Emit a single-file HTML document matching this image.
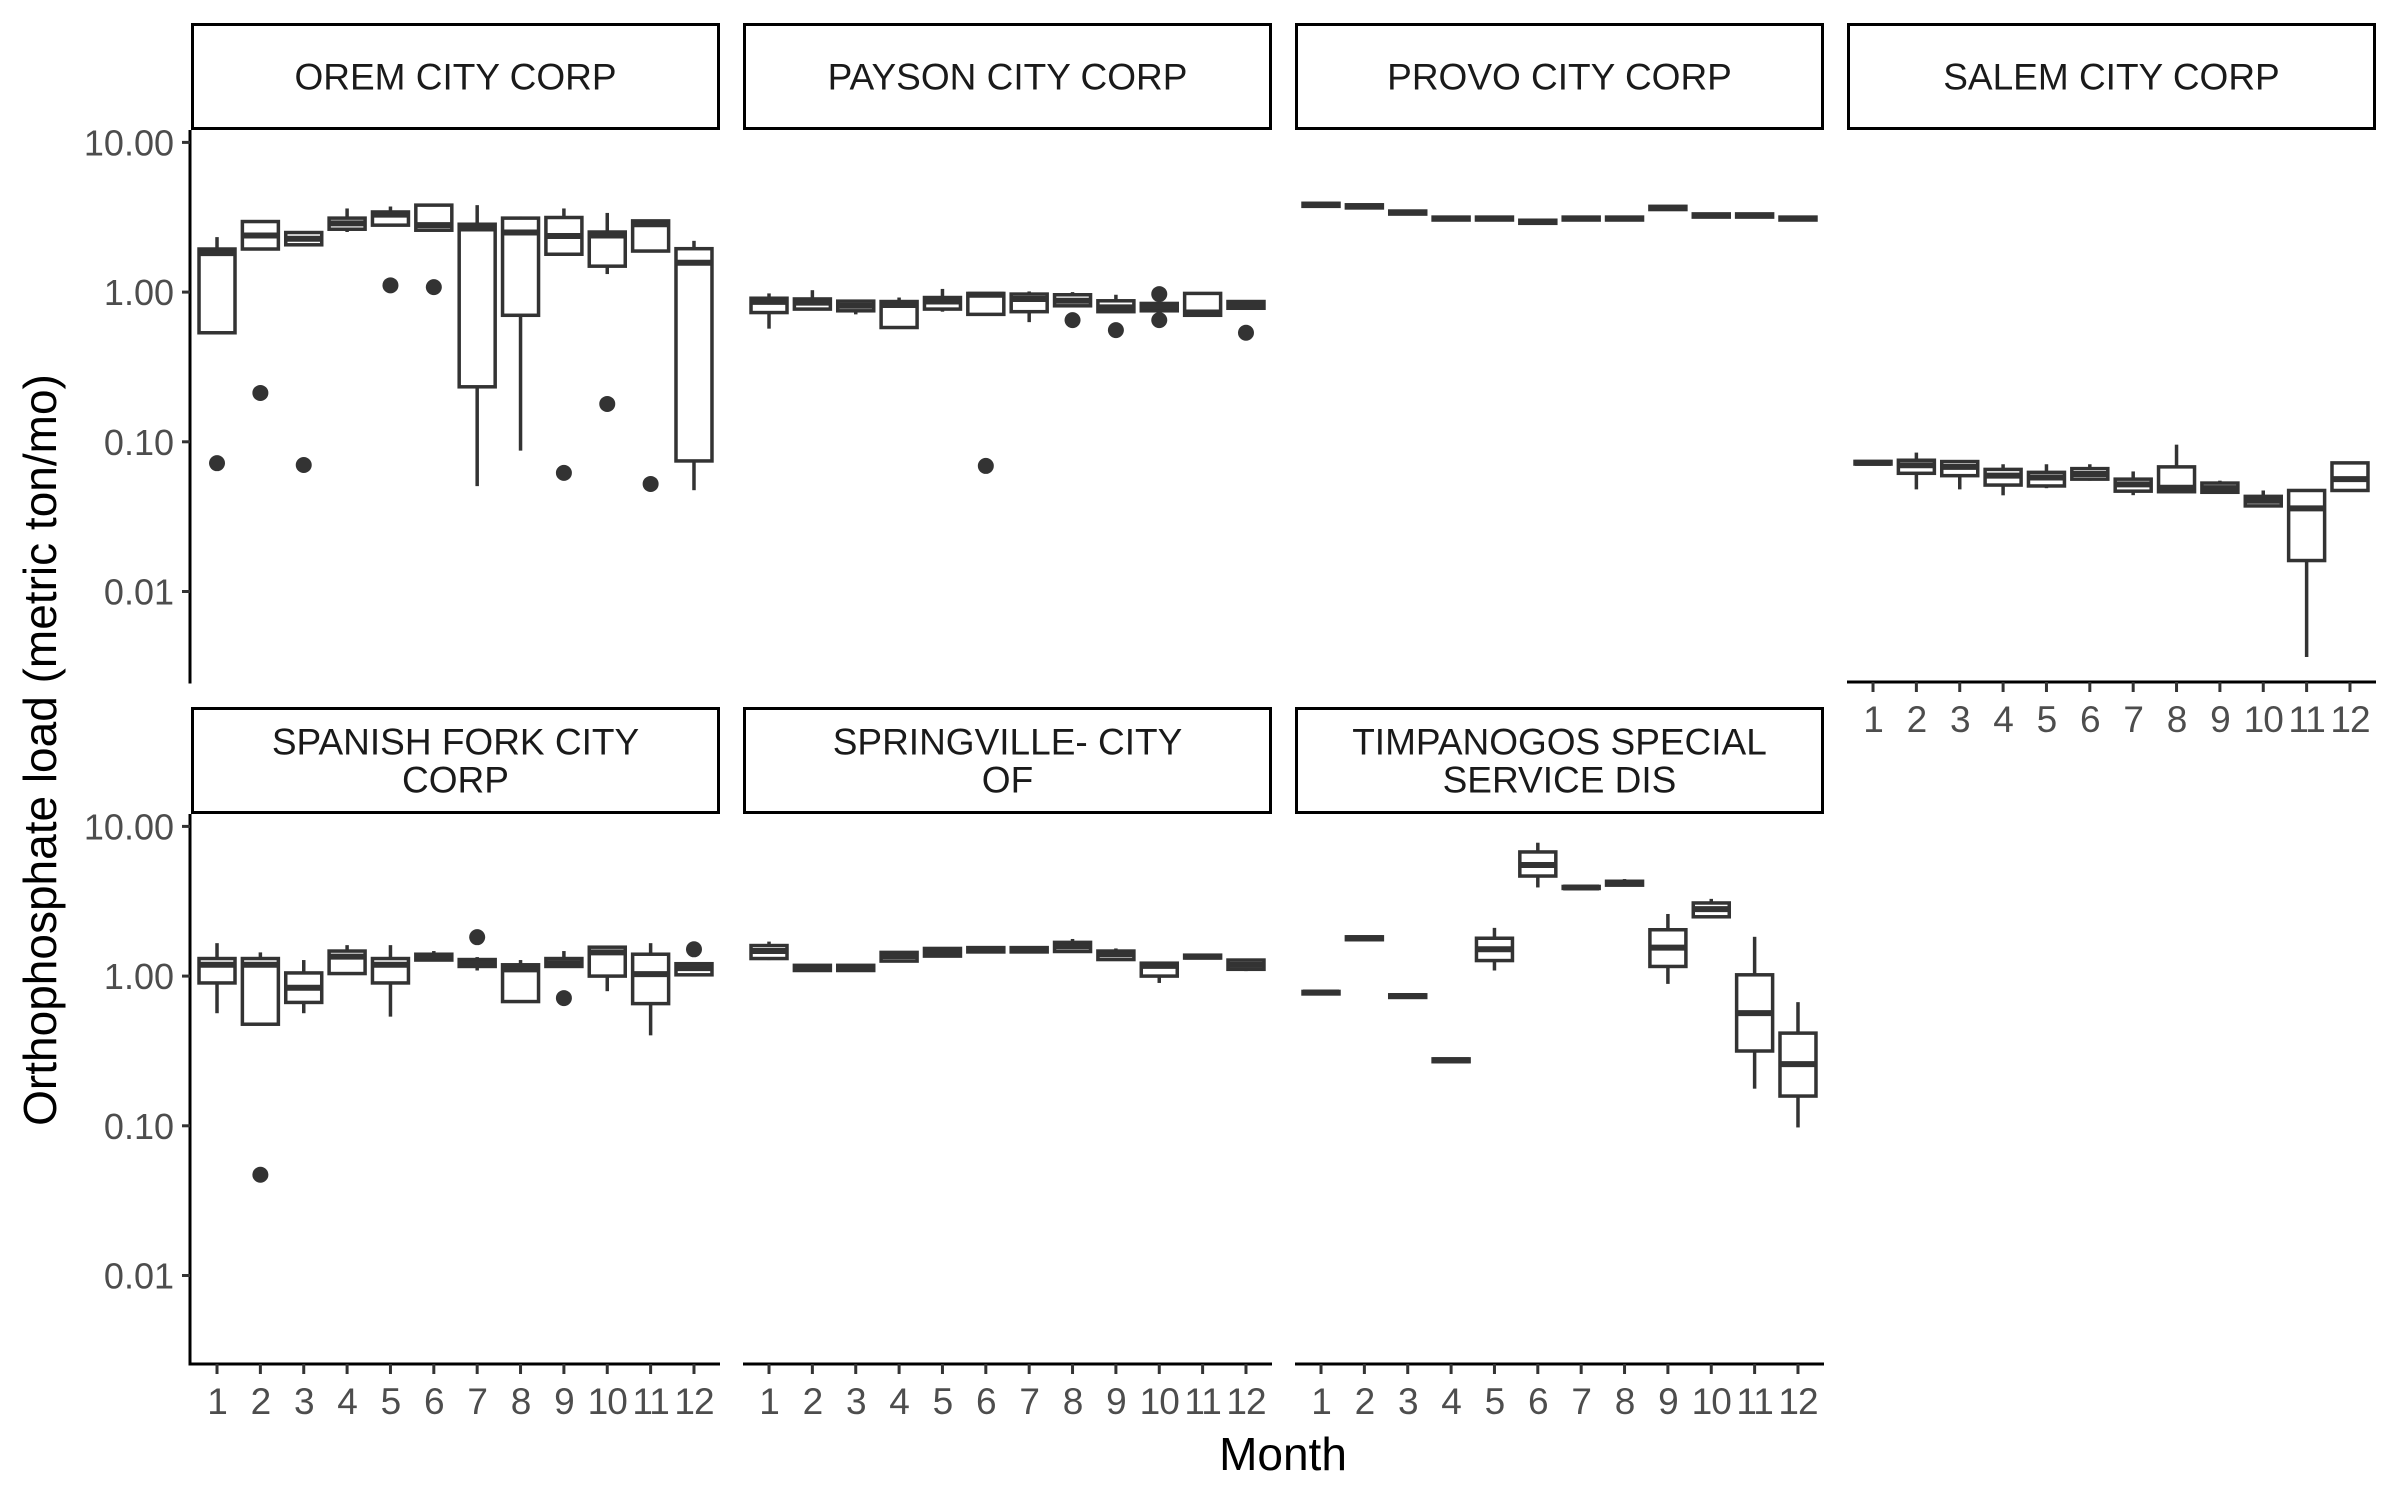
<!DOCTYPE html>
<html><head><meta charset="utf-8">
<style>
html,body{margin:0;padding:0;background:#fff;}
svg{display:block;font-family:"Liberation Sans",Arial,sans-serif;}
</style></head>
<body>
<svg id="chart" width="2400" height="1500" viewBox="0 0 2400 1500" xmlns="http://www.w3.org/2000/svg">
<rect x="0" y="0" width="2400" height="1500" fill="#fff"/>
<text x="1283" y="1470" font-size="46" text-anchor="middle" fill="#000">Month</text>
<text transform="translate(56,750) rotate(-90)" font-size="46" text-anchor="middle" fill="#000">Orthophosphate load (metric ton/mo)</text>
</svg>
<script>
const months = [1,2,3,4,5,6,7,8,9,10,11,12];
const yTicks = [10, 1, 0.1, 0.01];
const yTickLabels = ["10.00","1.00","0.10","0.01"];
const panelNames = ["OREM CITY CORP","PAYSON CITY CORP","PROVO CITY CORP","SALEM CITY CORP","SPANISH FORK CITY|CORP","SPRINGVILLE- CITY|OF","TIMPANOGOS SPECIAL|SERVICE DIS"];

const oremLo  = [0.535,1.94,2.07,2.52,2.80,2.59,0.0506,0.0873,1.79,1.32,1.88,0.0475];
const oremQ1  = [0.535,1.94,2.07,2.63,2.80,2.59,0.233,0.70,1.79,1.49,1.88,0.0745];
const oremMed = [1.82,2.39,2.27,2.88,3.29,2.80,2.66,2.50,2.37,2.39,2.84,1.57];
const oremQ3  = [1.94,2.96,2.50,3.12,3.43,3.81,2.84,3.12,3.15,2.52,2.99,1.95];
const oremHi  = [2.33,2.96,2.50,3.62,3.73,3.81,3.81,3.20,3.62,3.38,2.99,2.20];
const oremOut = [[1,0.072],[2,0.212],[3,0.070],[5,1.11],[6,1.08],[9,0.062],[10,0.179],[11,0.0523]];

const paysonLo  = [0.57,0.77,0.71,0.57,0.74,0.71,0.63,0.81,0.74,0.75,0.69,0.78];
const paysonQ1  = [0.73,0.77,0.75,0.58,0.77,0.71,0.74,0.81,0.74,0.75,0.70,0.78];
const paysonMed = [0.86,0.85,0.81,0.82,0.865,0.96,0.90,0.875,0.79,0.80,0.73,0.82];
const paysonQ3  = [0.91,0.90,0.87,0.865,0.92,0.98,0.97,0.96,0.875,0.84,0.98,0.865];
const paysonHi  = [0.98,1.03,0.89,0.92,1.05,0.98,1.01,1.0,0.96,0.84,0.98,0.865];
const paysonOut = [[6,0.069],[8,0.65],[9,0.557],[10,0.97],[10,0.65],[12,0.535]];

const provoLo  = [3.74,3.65,3.32,3.03,3.03,2.88,3.03,3.03,3.56,3.17,3.17,3.03];
const provoQ1  = [3.74,3.65,3.32,3.03,3.03,2.88,3.03,3.03,3.56,3.17,3.17,3.03];
const provoMed = [3.83,3.74,3.40,3.10,3.10,2.95,3.10,3.10,3.65,3.25,3.25,3.10];
const provoQ3  = [3.92,3.83,3.48,3.17,3.17,3.02,3.17,3.17,3.74,3.33,3.33,3.17];
const provoHi  = [3.92,3.83,3.48,3.17,3.17,3.02,3.17,3.17,3.74,3.33,3.33,3.17];
const provoOut = [];

const salemLo  = [0.0710,0.0481,0.0481,0.0439,0.0490,0.0550,0.0440,0.0464,0.0450,0.0373,0.00365,0.0473];
const salemQ1  = [0.0710,0.0616,0.0594,0.0514,0.0507,0.0563,0.0468,0.0464,0.0460,0.0373,0.0161,0.0473];
const salemMed = [0.0723,0.0697,0.0680,0.0594,0.0578,0.0609,0.0520,0.0493,0.0490,0.0404,0.0359,0.0563];
const salemQ3  = [0.0740,0.0753,0.0738,0.0654,0.0625,0.0662,0.0563,0.068,0.053,0.0432,0.0473,0.0723];
const salemHi  = [0.0740,0.0847,0.0738,0.0708,0.0708,0.0708,0.0634,0.0957,0.0550,0.0473,0.0473,0.0723];
const salemOut = [];

const spanishLo  = [0.565,0.477,0.565,1.04,0.536,1.28,1.09,0.676,1.16,0.793,0.402,1.02];
const spanishQ1  = [0.90,0.477,0.667,1.04,0.90,1.28,1.16,0.676,1.16,1.00,0.655,1.02];
const spanishMed = [1.19,1.19,0.836,1.35,1.19,1.35,1.22,1.11,1.22,1.44,1.03,1.13];
const spanishQ3  = [1.31,1.31,1.05,1.47,1.31,1.40,1.29,1.19,1.31,1.56,1.40,1.21];
const spanishHi  = [1.66,1.44,1.28,1.61,1.61,1.47,1.34,1.28,1.47,1.56,1.66,1.21];
const spanishOut = [[2,0.0471],[7,1.82],[9,0.713],[12,1.51]];

const springLo  = [1.28,1.09,1.09,1.25,1.36,1.45,1.45,1.46,1.28,0.90,1.32,1.08];
const springQ1  = [1.31,1.09,1.09,1.26,1.36,1.45,1.45,1.46,1.29,1.00,1.32,1.11];
const springMed = [1.47,1.13,1.13,1.36,1.46,1.50,1.50,1.58,1.40,1.17,1.35,1.19];
const springQ3  = [1.60,1.18,1.18,1.44,1.53,1.55,1.55,1.68,1.47,1.22,1.38,1.28];
const springHi  = [1.70,1.18,1.18,1.47,1.55,1.57,1.58,1.77,1.53,1.22,1.38,1.28];
const springOut = [];

const timpLo  = [0.76,1.75,0.72,0.268,1.09,3.91,3.85,4.05,0.887,2.45,0.177,0.0975];
const timpQ1  = [0.76,1.75,0.72,0.268,1.27,4.66,3.85,4.05,1.16,2.49,0.316,0.158];
const timpMed = [0.777,1.79,0.737,0.274,1.51,5.52,3.91,4.17,1.55,2.80,0.566,0.258];
const timpQ3  = [0.79,1.83,0.75,0.28,1.79,6.75,3.97,4.30,2.04,3.08,1.02,0.416];
const timpHi  = [0.79,1.83,0.75,0.28,2.10,7.78,3.97,4.45,2.60,3.28,1.83,0.67];
const timpOut = [];

const NS = "http://www.w3.org/2000/svg";
const svg = document.getElementById("chart");
function mk(tag, attrs, parent){
  const e = document.createElementNS(NS, tag);
  for (const k in attrs) e.setAttribute(k, attrs[k]);
  (parent || svg).appendChild(e);
  return e;
}
const PW = 529, colLeft = [191, 743, 1295, 1847];
const rowStripTop = [23, 707], rowPanelTop = [130, 814], rowPanelBot = [682, 1364], rowY10 = [142.4, 826.4];
const DEC = 149.7, UNIT = PW / 12.2;
function yScale(row, v){ return rowY10[row] + (1 - Math.log10(v)) * DEC; }
function xScale(col, m){ return colLeft[col] + (m - 1 + 0.6) * UNIT; }

const panels = [
  {row:0,col:0,lo:oremLo,q1:oremQ1,med:oremMed,q3:oremQ3,hi:oremHi,out:oremOut,yaxis:true,xaxis:false},
  {row:0,col:1,lo:paysonLo,q1:paysonQ1,med:paysonMed,q3:paysonQ3,hi:paysonHi,out:paysonOut,yaxis:false,xaxis:false},
  {row:0,col:2,lo:provoLo,q1:provoQ1,med:provoMed,q3:provoQ3,hi:provoHi,out:provoOut,yaxis:false,xaxis:false},
  {row:0,col:3,lo:salemLo,q1:salemQ1,med:salemMed,q3:salemQ3,hi:salemHi,out:salemOut,yaxis:false,xaxis:true},
  {row:1,col:0,lo:spanishLo,q1:spanishQ1,med:spanishMed,q3:spanishQ3,hi:spanishHi,out:spanishOut,yaxis:true,xaxis:true},
  {row:1,col:1,lo:springLo,q1:springQ1,med:springMed,q3:springQ3,hi:springHi,out:springOut,yaxis:false,xaxis:true},
  {row:1,col:2,lo:timpLo,q1:timpQ1,med:timpMed,q3:timpQ3,hi:timpHi,out:timpOut,yaxis:false,xaxis:true}
];

panels.forEach((p, i) => {
  const g = mk("g", {});
  
  
  const L = colLeft[p.col];
  const strip = mk("rect", {x:L+1.5, y:rowStripTop[p.row]+1.5, width:PW-3, height:rowPanelTop[p.row]-rowStripTop[p.row]-3, fill:"#fff", stroke:"#000", "stroke-width":3}, g);
  
  
  const lines = panelNames[i].split("|");
  const cy = (rowStripTop[p.row] + rowPanelTop[p.row]) / 2;
  lines.forEach((ln, k) => {
    const t = mk("text", {x:L+PW/2, y: cy + 13 + (k - (lines.length-1)/2) * 38, "font-size":37, "text-anchor":"middle", fill:"#1a1a1a"}, g);
    t.textContent = ln;
    
    
  });
  if (p.yaxis){
    const ax = mk("line", {x1:L-1, x2:L-1, y1:rowPanelTop[p.row], y2:rowPanelBot[p.row]+1.5, stroke:"#000", "stroke-width":3}, g);
    
    
    yTicks.forEach((v, k) => {
      const y = yScale(p.row, v);
      mk("line", {x1:L-9, x2:L-1, y1:y, y2:y, stroke:"#333", "stroke-width":3}, g);
      const t = mk("text", {x:L-17, y:y+13, "font-size":36, "text-anchor":"end", fill:"#4d4d4d"}, g);
      t.textContent = yTickLabels[k];
      
      
    });
  }
  if (p.xaxis){
    const yb = rowPanelBot[p.row];
    const ax = mk("line", {x1:L, x2:L+PW, y1:yb, y2:yb, stroke:"#000", "stroke-width":3}, g);
    
    
    months.forEach(m => {
      const x = xScale(p.col, m);
      mk("line", {x1:x, x2:x, y1:yb, y2:yb+10, stroke:"#333", "stroke-width":3}, g);
      const t = mk("text", {x:x, y:yb+50, "font-size":37, "text-anchor":"middle", fill:"#4d4d4d", "letter-spacing":"-1"}, g);
      t.textContent = String(m);
      
      
    });
  }
  const hw = UNIT * 0.83 / 2;
  months.forEach((m, k) => {
    const x = xScale(p.col, m);
    const bg = mk("g", {}, g);
    
    
    const yLo = yScale(p.row, p.lo[k]), yQ1 = yScale(p.row, p.q1[k]), yMed = yScale(p.row, p.med[k]), yQ3 = yScale(p.row, p.q3[k]), yHi = yScale(p.row, p.hi[k]);
    mk("line", {x1:x, x2:x, y1:yHi, y2:yQ3, stroke:"#333", "stroke-width":3.5}, bg);
    mk("line", {x1:x, x2:x, y1:yQ1, y2:yLo, stroke:"#333", "stroke-width":3.5}, bg);
    mk("rect", {x:x-hw, y:yQ3, width:2*hw, height:Math.max(0.5, yQ1-yQ3), fill:"#fff", stroke:"#333", "stroke-width":3.5}, bg);
    mk("line", {x1:x-hw, x2:x+hw, y1:yMed, y2:yMed, stroke:"#333", "stroke-width":6}, bg);
  });
  p.out.forEach(o => {
    const c = mk("circle", {cx:xScale(p.col, o[0]), cy:yScale(p.row, o[1]), r:8, fill:"#333"}, g);
    
    
  });
});
</script>
</body></html>
